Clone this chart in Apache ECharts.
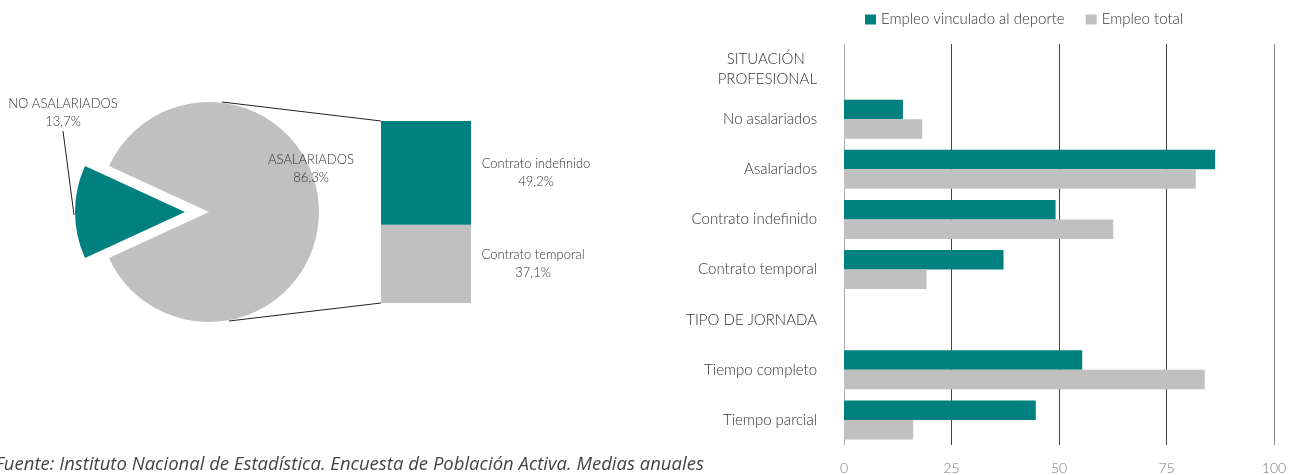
<!DOCTYPE html>
<html>
<head>
<meta charset="utf-8">
<script src="https://cdn.jsdelivr.net/npm/echarts@6/dist/echarts.min.js"></script>
<style>
  html, body { margin: 0; padding: 0; background: #fff; }
  #chart { width: 1297px; height: 475px; }
</style>
</head>
<body>
<div id="chart"></div>
<script>
  // datos del gráfico
  var pieNames = ['NO ASALARIADOS', 'ASALARIADOS'];
  var pieValues = [13.7, 86.3];
  var contratoNames = ['Contrato temporal', 'Contrato indefinido'];
  var contratoValues = [37.1, 49.2];
  var categorias = ['SITUACIÓN\nPROFESIONAL', 'No asalariados', 'Asalariados', 'Contrato indefinido',
    'Contrato temporal', 'TIPO DE JORNADA', 'Tiempo completo', 'Tiempo parcial'];
  var deporte = [null, 13.7, 86.3, 49.2, 37.1, null, 55.4, 44.6];
  var total = [null, 18.2, 81.8, 62.6, 19.2, null, 83.9, 16.1];
  var xTicks = [0, 25, 50, 75, 100];

  var TEAL = '#00807f';
  var GRAY = '#c0c0c0';
  var FONT = 'Lato';

  function pct(v) {
    return String(v).replace('.', ',') + '%';
  }

  var chart = echarts.init(document.getElementById('chart'));

  var labelStyle = { font: '300 13px Lato', fill: '#333', align: 'center', verticalAlign: 'middle', lineHeight: 18 };

  chart.setOption({
    animation: false,
    textStyle: { fontFamily: FONT, fontWeight: 300 },
    legend: {
      left: 865,
      top: 12,
      padding: 0,
      icon: 'rect',
      itemWidth: 11,
      itemHeight: 10,
      itemGap: 21,
      textStyle: { fontSize: 15, color: '#333', fontFamily: FONT },
      data: ['Empleo vinculado al deporte', 'Empleo total']
    },
    grid: [
      { left: 381, top: 121, width: 90, height: 182 },
      { left: 844, top: 44, width: 430, bottom: 28 }
    ],
    xAxis: [
      { gridIndex: 0, type: 'category', data: ['asal'], show: false },
      {
        gridIndex: 1,
        type: 'value',
        min: 0,
        max: 100,
        interval: 25,
        axisLine: { show: false },
        axisTick: { show: false },
        axisLabel: { color: '#777', fontSize: 14, margin: 16, fontFamily: FONT,
          formatter: function (v) { return xTicks.indexOf(v) >= 0 ? v : ''; } },
        splitLine: { lineStyle: { color: ['#aaa', '#444', '#444', '#444', '#888'], width: 1 } }
      }
    ],
    yAxis: [
      { gridIndex: 0, type: 'value', min: 0, max: 86.3, show: false },
      {
        gridIndex: 1,
        type: 'category',
        inverse: true,
        data: categorias,
        axisLine: { show: false },
        axisTick: { show: false },
        axisLabel: {
          color: '#333', fontSize: 15, margin: 27, lineHeight: 20, fontFamily: FONT,
          formatter: function (v) { return v.replace('\n', '   \n'); }
        }
      }
    ],
    series: [
      {
        type: 'pie',
        center: [209, 212],
        radius: 110,
        startAngle: 180 + pieValues[0] * 3.6 / 2,
        clockwise: true,
        selectedMode: 'single',
        selectedOffset: 24,
        emphasis: { disabled: true },
        silent: true,
        label: { show: false },
        labelLine: { show: false },
        data: [
          { name: pieNames[0], value: pieValues[0], selected: true, itemStyle: { color: TEAL } },
          { name: pieNames[1], value: pieValues[1], itemStyle: { color: GRAY } }
        ]
      },
      {
        type: 'bar',
        xAxisIndex: 0,
        yAxisIndex: 0,
        stack: 'asal',
        barWidth: '100%',
        silent: true,
        itemStyle: { color: GRAY },
        label: {
          show: true, position: [152, '50%'], align: 'center', verticalAlign: 'middle',
          color: '#333', fontSize: 13, lineHeight: 18, fontFamily: FONT,
          formatter: function () { return contratoNames[0] + '\n' + pct(contratoValues[0]); }
        },
        data: [contratoValues[0]]
      },
      {
        type: 'bar',
        xAxisIndex: 0,
        yAxisIndex: 0,
        stack: 'asal',
        barWidth: '100%',
        silent: true,
        itemStyle: { color: TEAL },
        label: {
          show: true, position: [155, '50%'], align: 'center', verticalAlign: 'middle',
          color: '#333', fontSize: 13, lineHeight: 18, fontFamily: FONT,
          formatter: function () { return contratoNames[1] + '\n' + pct(contratoValues[1]); }
        },
        data: [contratoValues[1]]
      },
      {
        name: 'Empleo vinculado al deporte',
        type: 'bar',
        xAxisIndex: 1,
        yAxisIndex: 1,
        barGap: '0%',
        barCategoryGap: '22%',
        itemStyle: { color: TEAL },
        data: deporte
      },
      {
        name: 'Empleo total',
        type: 'bar',
        xAxisIndex: 1,
        yAxisIndex: 1,
        barGap: '0%',
        barCategoryGap: '22%',
        itemStyle: { color: GRAY },
        data: total
      }
    ],
    graphic: [
      { type: 'line', z: 100, shape: { x1: 222, y1: 102, x2: 381, y2: 121 }, style: { stroke: '#222', lineWidth: 1 } },
      { type: 'line', z: 100, shape: { x1: 229, y1: 321, x2: 381, y2: 303 }, style: { stroke: '#222', lineWidth: 1 } },
      { type: 'line', z: 100, shape: { x1: 63, y1: 131, x2: 74, y2: 215 }, style: { stroke: '#222', lineWidth: 1 } },
      { type: 'text', z: 100, x: 63, y: 113,
        style: Object.assign({ text: pieNames[0] + '\n' + pct(pieValues[0]) }, labelStyle) },
      { type: 'text', z: 100, x: 311, y: 169,
        style: Object.assign({ text: pieNames[1] + '\n' + pct(pieValues[1]) }, labelStyle) },
      {
        type: 'text', z: 100, left: -5, top: 455,
        style: {
          text: 'Fuente: Instituto Nacional de Estadística. Encuesta de Población Activa. Medias anuales',
          font: 'italic 18.5px "Open Sans"', fill: '#444'
        }
      }
    ]
  });
</script>
</body>
</html>
